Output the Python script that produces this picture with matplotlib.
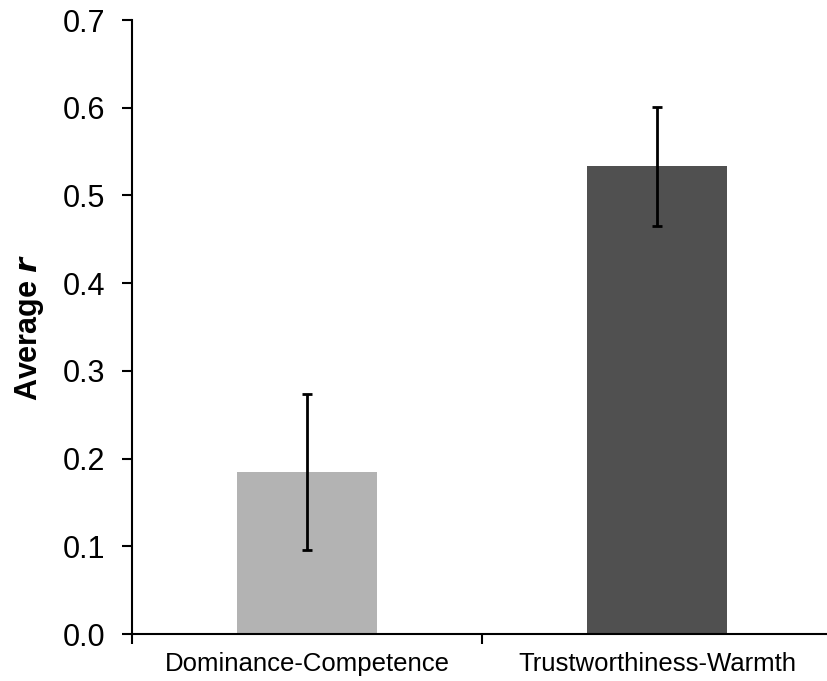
import matplotlib.pyplot as plt

categories = ['Dominance-Competence', 'Trustworthiness-Warmth']
means = [0.185, 0.533]
errors = [0.089, 0.068]
colors = ['#b3b3b3', '#505050']

plt.rcParams['font.family'] = ['Liberation Sans', 'DejaVu Sans']

fig = plt.figure(figsize=(8.27, 6.81), dpi=100)
ax = fig.add_axes([132 / 827, 47 / 681, 700 / 827, 614 / 681])

x = list(range(len(categories)))
ax.bar(x, means, width=0.4, color=colors, zorder=2)
ax.errorbar(x, means, yerr=errors, fmt='none', ecolor='black',
            elinewidth=2, capsize=3.3, capthick=2, zorder=3)

ax.set_xlim(-0.5, 1.5)
ax.set_ylim(0, 0.7)
ax.set_yticks([i / 10 for i in range(8)])
ax.set_yticklabels([f'{i / 10:.1f}' for i in range(8)], fontsize=22)

# boundary ticks between categories, labels on minor ticks
ax.set_xticks([-0.5, 0.5, 1.5])
ax.set_xticklabels([])
ax.set_xticks(x, minor=True)
ax.set_xticklabels(categories, minor=True, fontsize=18.5)
ax.tick_params(axis='x', which='minor', length=0, pad=13)
ax.tick_params(axis='both', which='major', direction='out', length=7, width=1.5)
ax.tick_params(axis='y', pad=12)

ax.set_ylabel('Average $\\boldsymbol{r}$', fontsize=22, fontweight='bold', labelpad=12)

for s in ['top', 'right']:
    ax.spines[s].set_visible(False)
for s in ['left', 'bottom']:
    ax.spines[s].set_linewidth(1.5)

fig.savefig('out.png', dpi=100)
